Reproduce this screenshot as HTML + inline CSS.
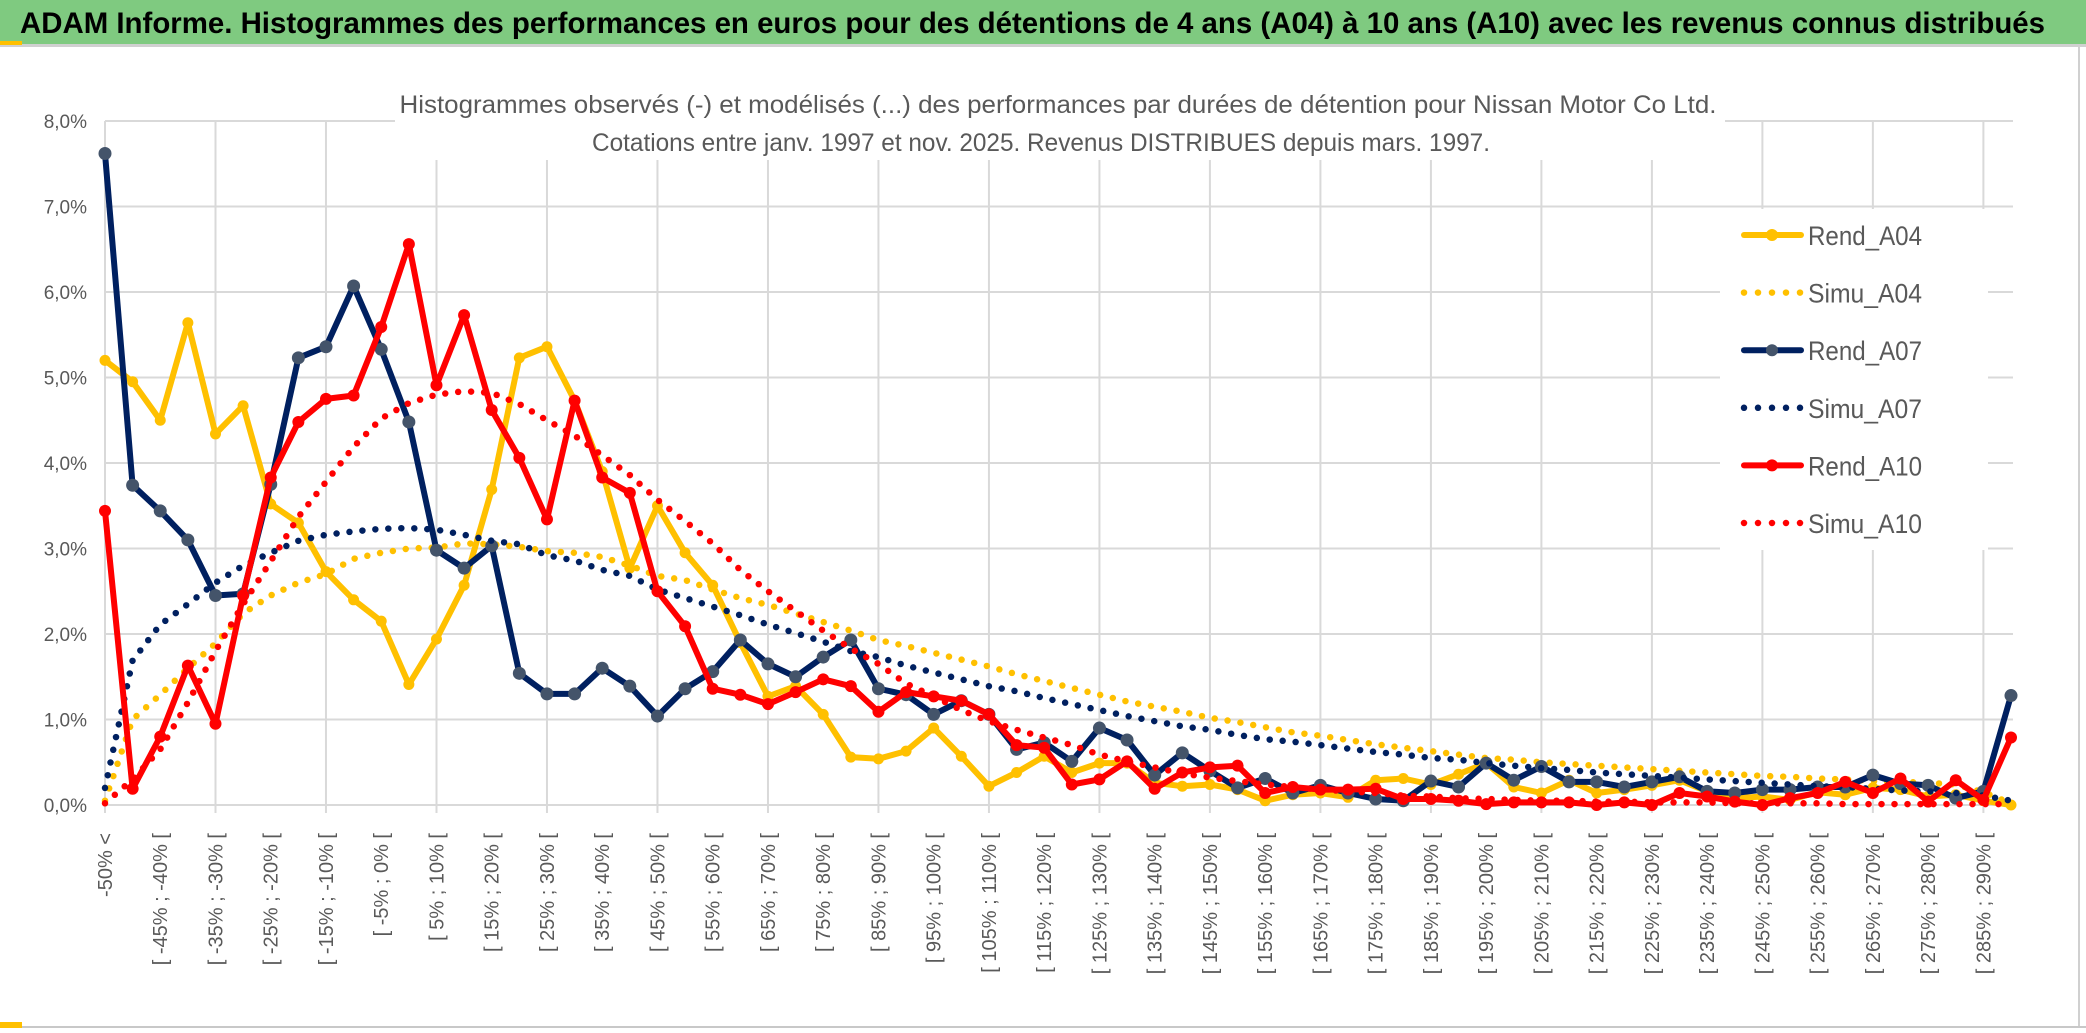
<!DOCTYPE html>
<html><head><meta charset="utf-8"><style>
html,body{margin:0;padding:0;background:#fff;}
svg{display:block;font-family:"Liberation Sans",sans-serif;}
</style></head><body>
<svg id="chart" width="2086" height="1033" viewBox="0 0 2086 1033">
<rect x="0" y="0" width="2086" height="1033" fill="#fff"/>
<rect x="0" y="0" width="2086" height="45" fill="#7fca80"/>
<rect x="0" y="44" width="2086" height="3" fill="#d0d0d0"/>
<rect x="0" y="41" width="22" height="4" fill="#ffc000"/>
<text x="20" y="33" font-size="30" font-weight="bold" fill="#000" textLength="2025" lengthAdjust="spacingAndGlyphs">ADAM Informe. Histogrammes des performances en euros pour des détentions de 4 ans (A04) à 10 ans (A10) avec les revenus connus distribués</text>
<line x1="2079" y1="47" x2="2079" y2="1026" stroke="#d0d0d0" stroke-width="2"/>
<line x1="0" y1="1027" x2="2086" y2="1027" stroke="#c8c8c8" stroke-width="2"/>
<rect x="0" y="1022" width="22" height="6" fill="#ffc000"/>
<g id="grid"></g>
<rect x="395" y="84" width="1330" height="76" fill="#fff"/>
<text x="1058" y="113" font-size="25" fill="#595959" text-anchor="middle" textLength="1317" lengthAdjust="spacingAndGlyphs">Histogrammes observés (-) et modélisés (...) des performances par durées de détention pour Nissan Motor Co Ltd.</text>
<text x="1041" y="151" font-size="25" fill="#595959" text-anchor="middle" textLength="898" lengthAdjust="spacingAndGlyphs">Cotations entre janv. 1997 et nov. 2025. Revenus DISTRIBUES depuis mars. 1997.</text>
<g id="series"></g>
<g id="axes"></g>
<g id="legend"></g>
</svg>
<script>
const categories = ["-50% <","[ -50% ; -45% [","[ -45% ; -40% [","[ -40% ; -35% [","[ -35% ; -30% [","[ -30% ; -25% [","[ -25% ; -20% [","[ -20% ; -15% [","[ -15% ; -10% [","[ -10% ; -5% [","[ -5% ; 0% [","[ 0% ; 5% [","[ 5% ; 10% [","[ 10% ; 15% [","[ 15% ; 20% [","[ 20% ; 25% [","[ 25% ; 30% [","[ 30% ; 35% [","[ 35% ; 40% [","[ 40% ; 45% [","[ 45% ; 50% [","[ 50% ; 55% [","[ 55% ; 60% [","[ 60% ; 65% [","[ 65% ; 70% [","[ 70% ; 75% [","[ 75% ; 80% [","[ 80% ; 85% [","[ 85% ; 90% [","[ 90% ; 95% [","[ 95% ; 100% [","[ 100% ; 105% [","[ 105% ; 110% [","[ 110% ; 115% [","[ 115% ; 120% [","[ 120% ; 125% [","[ 125% ; 130% [","[ 130% ; 135% [","[ 135% ; 140% [","[ 140% ; 145% [","[ 145% ; 150% [","[ 150% ; 155% [","[ 155% ; 160% [","[ 160% ; 165% [","[ 165% ; 170% [","[ 170% ; 175% [","[ 175% ; 180% [","[ 180% ; 185% [","[ 185% ; 190% [","[ 190% ; 195% [","[ 195% ; 200% [","[ 200% ; 205% [","[ 205% ; 210% [","[ 210% ; 215% [","[ 215% ; 220% [","[ 220% ; 225% [","[ 225% ; 230% [","[ 230% ; 235% [","[ 235% ; 240% [","[ 240% ; 245% [","[ 245% ; 250% [","[ 250% ; 255% [","[ 255% ; 260% [","[ 260% ; 265% [","[ 265% ; 270% [","[ 270% ; 275% [","[ 275% ; 280% [","[ 280% ; 285% [","[ 285% ; 290% [","[ 290% ; 295% ["];
const yTickValues = [0,1,2,3,4,5,6,7,8];
const yTickLabels = ["0,0%","1,0%","2,0%","3,0%","4,0%","5,0%","6,0%","7,0%","8,0%"];
const rendA04 = [5.2,4.95,4.5,5.64,4.34,4.67,3.52,3.3,2.73,2.4,2.15,1.41,1.94,2.57,3.69,5.23,5.36,4.73,3.9,2.77,3.5,2.95,2.57,1.9,1.27,1.39,1.06,0.56,0.54,0.63,0.9,0.57,0.22,0.38,0.57,0.38,0.49,0.49,0.26,0.22,0.24,0.18,0.05,0.12,0.14,0.09,0.29,0.31,0.24,0.36,0.49,0.21,0.14,0.29,0.14,0.18,0.23,0.29,0.16,0.08,0.1,0.06,0.15,0.12,0.2,0.18,0.1,0.12,0.05,0.0];
const simuA04 = [0.05,1.0,1.29,1.6,1.89,2.24,2.45,2.6,2.7,2.88,2.95,3.0,3.01,3.06,3.05,3.02,2.97,2.95,2.9,2.8,2.68,2.63,2.52,2.42,2.34,2.24,2.14,2.04,1.93,1.86,1.78,1.7,1.62,1.53,1.45,1.37,1.29,1.21,1.15,1.09,1.02,0.97,0.91,0.85,0.81,0.76,0.71,0.67,0.63,0.59,0.55,0.53,0.5,0.48,0.46,0.44,0.42,0.4,0.38,0.36,0.34,0.33,0.31,0.3,0.28,0.27,0.26,0.24,0.15,0.02];
const rendA07 = [7.62,3.74,3.44,3.1,2.45,2.47,3.75,5.23,5.36,6.07,5.33,4.48,2.98,2.77,3.03,1.54,1.3,1.3,1.6,1.39,1.04,1.36,1.56,1.93,1.65,1.5,1.73,1.93,1.36,1.29,1.06,1.22,1.06,0.65,0.73,0.51,0.9,0.76,0.35,0.61,0.4,0.2,0.31,0.14,0.23,0.14,0.07,0.05,0.28,0.21,0.49,0.29,0.45,0.27,0.27,0.21,0.27,0.33,0.16,0.14,0.18,0.18,0.21,0.21,0.35,0.25,0.23,0.08,0.16,1.28];
const simuA07 = [0.2,1.69,2.11,2.35,2.6,2.8,2.95,3.09,3.16,3.2,3.23,3.24,3.22,3.16,3.09,3.05,2.92,2.86,2.75,2.68,2.52,2.42,2.32,2.22,2.11,2.01,1.91,1.8,1.73,1.63,1.55,1.47,1.39,1.33,1.25,1.18,1.11,1.04,0.98,0.92,0.88,0.82,0.77,0.74,0.7,0.66,0.62,0.59,0.55,0.53,0.49,0.46,0.43,0.41,0.38,0.36,0.34,0.32,0.3,0.28,0.26,0.24,0.22,0.21,0.19,0.17,0.16,0.14,0.11,0.05];
const rendA10 = [3.44,0.19,0.8,1.63,0.95,2.45,3.83,4.48,4.75,4.79,5.59,6.56,4.91,5.73,4.62,4.06,3.34,4.73,3.83,3.65,2.5,2.09,1.36,1.29,1.18,1.32,1.47,1.39,1.09,1.32,1.27,1.22,1.06,0.7,0.67,0.24,0.3,0.51,0.19,0.38,0.44,0.46,0.14,0.21,0.18,0.18,0.19,0.07,0.07,0.05,0.01,0.03,0.03,0.03,0.0,0.03,0.0,0.14,0.1,0.04,0.0,0.08,0.14,0.27,0.14,0.31,0.04,0.29,0.06,0.79];
const simuA10 = [0.02,0.3,0.65,1.2,1.8,2.35,2.85,3.37,3.78,4.19,4.52,4.7,4.8,4.84,4.82,4.69,4.5,4.32,4.09,3.86,3.57,3.32,3.06,2.75,2.5,2.27,2.04,1.83,1.65,1.42,1.27,1.11,0.98,0.88,0.79,0.7,0.59,0.51,0.44,0.37,0.32,0.28,0.24,0.21,0.18,0.16,0.14,0.11,0.1,0.08,0.07,0.06,0.05,0.05,0.04,0.04,0.03,0.03,0.03,0.02,0.02,0.02,0.02,0.01,0.01,0.01,0.01,0.01,0.01,0.01];

const NS = "http://www.w3.org/2000/svg";
const X0 = 105, X1 = 2011, Y0 = 805, YTOP = 121, YMAX = 8;
function xPos(i){ return X0 + (X1 - X0) * i / (categories.length - 1); }
function yPos(v){ return Y0 - (Y0 - YTOP) * v / YMAX; }
function mk(tag, attrs, parent){ const e = document.createElementNS(NS, tag); for (const k in attrs) e.setAttribute(k, attrs[k]); parent.appendChild(e); return e; }

const grid = document.getElementById('grid');
yTickValues.forEach(function(v){
  const l = mk('line', {x1: X0, x2: X1 + 2, y1: yPos(v), y2: yPos(v), stroke: '#d9d9d9', 'stroke-width': 2}, grid);
  
  
});
for (let i = 0; i < categories.length; i += 4) {
  const l = mk('line', {x1: xPos(i), x2: xPos(i), y1: YTOP, y2: Y0 + 8, stroke: '#d9d9d9', 'stroke-width': 2}, grid);
  
  
}
const lb = mk('rect', {x: 1720, y: 209, width: 268, height: 341, fill: '#fff'}, grid);



const axes = document.getElementById('axes');
yTickValues.forEach(function(v, k){
  const t = mk('text', {x: 87, y: yPos(v) + 7, 'font-size': 19, fill: '#595959', 'text-anchor': 'end'}, axes);
  t.textContent = yTickLabels[k];
  
  
});
for (let i = 0; i < categories.length; i += 2) {
  const x = xPos(i) + 7, y = 833;
  const t = mk('text', {x: x, y: y, 'font-size': 20, fill: '#595959', 'text-anchor': 'end', transform: 'rotate(-90 ' + x + ' ' + y + ')'}, axes);
  t.textContent = categories[i];
  
  
}

const seriesG = document.getElementById('series');
function pts(arr){ return arr.map(function(v, i){ return xPos(i).toFixed(1) + ',' + yPos(v).toFixed(1); }).join(' '); }
function drawRend(arr, color, mcolor, r, name){
  const g = mk('g', {}, seriesG);
  
  
  const p = mk('polyline', {points: pts(arr), fill: 'none', stroke: color, 'stroke-width': 6, 'stroke-linejoin': 'round', 'stroke-linecap': 'round'}, g);
  
  
  arr.forEach(function(v, i){
    const c = mk('circle', {cx: xPos(i), cy: yPos(v), r: r, fill: mcolor}, g);
    
    
  });
}
function drawSimu(arr, color, name){
  const p = mk('polyline', {points: pts(arr), fill: 'none', stroke: color, 'stroke-width': 6.5, 'stroke-linecap': 'round', 'stroke-dasharray': '0 13'}, seriesG);
  
  
}
drawRend(rendA04, '#ffc000', '#ffc000', 5.5, 'rend-a04');
drawSimu(simuA04, '#ffc000', 'simu-a04');
drawRend(rendA07, '#002060', '#44546a', 6.5, 'rend-a07');
drawSimu(simuA07, '#002060', 'simu-a07');
drawRend(rendA10, '#ff0000', '#ff0000', 6, 'rend-a10');
drawSimu(simuA10, '#ff0000', 'simu-a10');

const legendNames = ["Rend_A04","Simu_A04","Rend_A07","Simu_A07","Rend_A10","Simu_A10"];
const legendColors = ['#ffc000','#ffc000','#002060','#002060','#ff0000','#ff0000'];
const legendMarkers = ['#ffc000',null,'#44546a',null,'#ff0000',null];
const lg = document.getElementById('legend');
legendNames.forEach(function(n, k){
  const y = 235 + k * 57.6;
  const g = mk('g', {}, lg);
  
  
  if (legendMarkers[k]) {
    mk('line', {x1: 1744, x2: 1801, y1: y, y2: y, stroke: legendColors[k], 'stroke-width': 6, 'stroke-linecap': 'round'}, g);
    mk('circle', {cx: 1772, cy: y, r: 6, fill: legendMarkers[k]}, g);
  } else {
    mk('line', {x1: 1744, x2: 1803, y1: y, y2: y, stroke: legendColors[k], 'stroke-width': 6.5, 'stroke-linecap': 'round', 'stroke-dasharray': '0 14'}, g);
  }
  const t = mk('text', {x: 1808, y: y + 10, 'font-size': 27, fill: '#595959', textLength: 114, lengthAdjust: 'spacingAndGlyphs'}, g);
  t.textContent = n;
});
</script>
</body></html>
